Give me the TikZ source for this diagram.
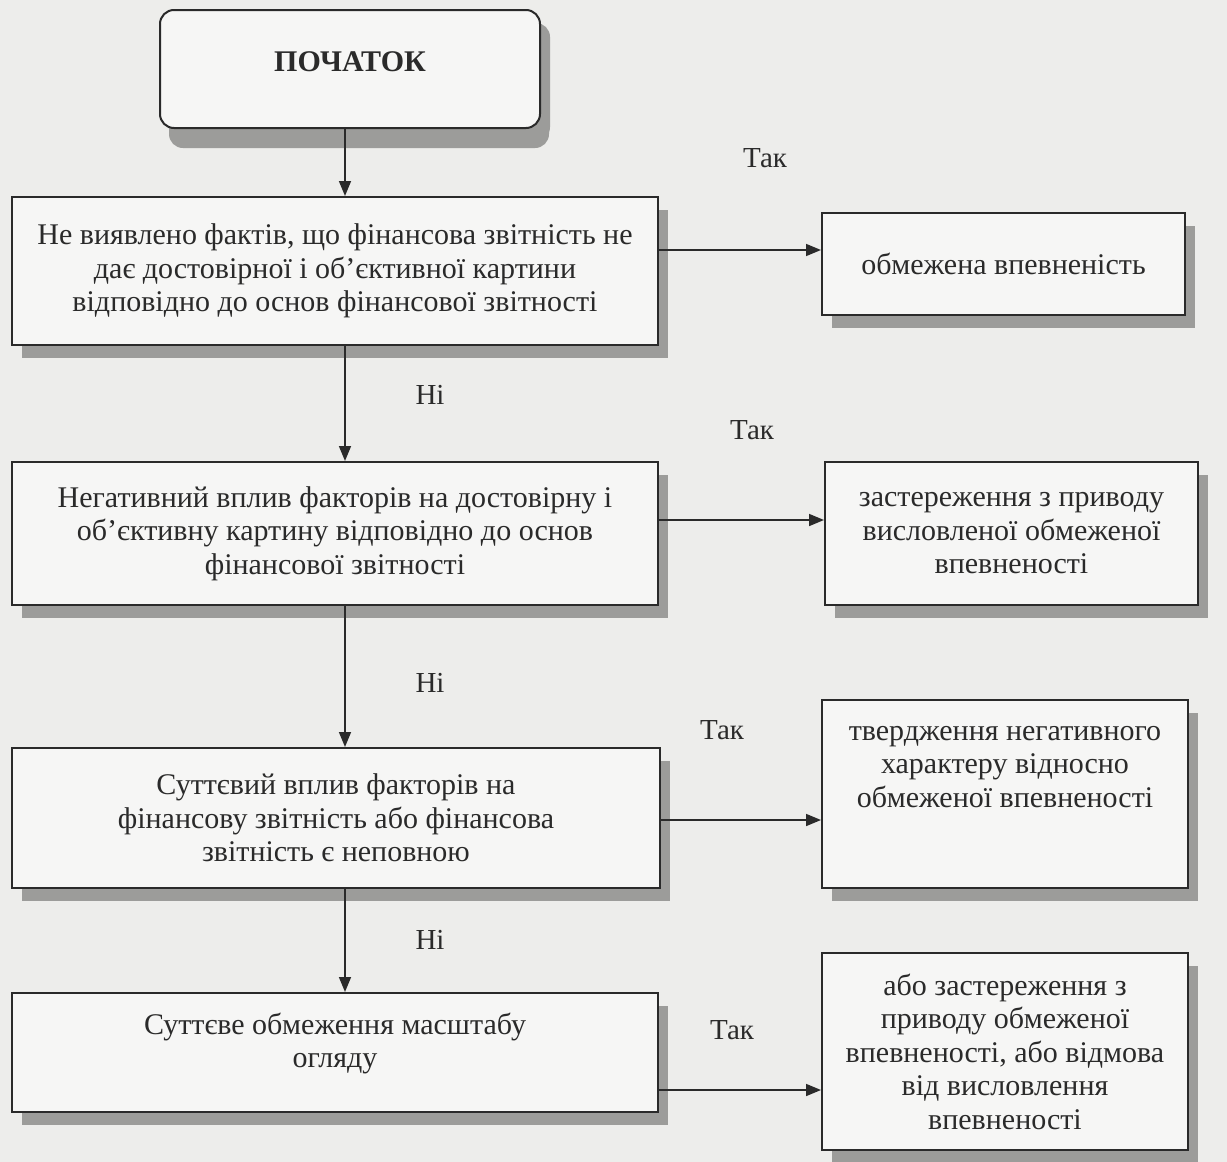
\documentclass[tikz,border=0pt]{standalone}
\usepackage{fontspec}
\setmainfont{Liberation Serif}
\usetikzlibrary{arrows.meta,calc,shadows}
\definecolor{paper}{HTML}{EDEDEB}
\definecolor{ink}{HTML}{2A2A2A}
\definecolor{shade}{HTML}{9C9C9A}
\tikzset{
  box/.style={draw=ink, line width=2pt, fill=paper!50!white, rectangle,
    inner sep=0pt, align=center, text=ink,
    font=\fontsize{30}{33.5}\selectfont,
    drop shadow={shadow xshift=10pt, shadow yshift=-13pt, fill=shade, opacity=1}},
  startbox/.style={box, rounded corners=14pt, font=\fontsize{30}{33}\selectfont\bfseries,
    drop shadow={shadow xshift=9pt, shadow yshift=-20pt, fill=shade, opacity=1}},
  arr/.style={draw=ink, line width=1.6pt, -{Triangle[length=15pt,width=12pt]}},
  tag/.style={text=ink, font=\fontsize{29}{32}\selectfont, inner sep=0pt},
}
\begin{document}
\begin{tikzpicture}[x=1pt, y=-1pt]
  % page
  \fill[paper] (0,0) rectangle (1227,1162);
  \useasboundingbox (0,0) rectangle (1227,1162);

  % left column: start and the four checks
  \node[startbox, minimum width=380pt, minimum height=118pt] (start) at (350,69) {ПОЧАТОК\\[-19pt]\mbox{}};
  \node[box, minimum width=646pt, minimum height=148pt] (q1) at (335,271)
    {Не виявлено фактів, що фінансова звітність не\\
     дає достовірної і об'єктивної картини\\
     відповідно до основ фінансової звітності};
  \node[box, minimum width=646pt, minimum height=143pt] (q2) at (335,533.5)
    {Негативний вплив факторів на достовірну і\\
     об'єктивну картину відповідно до основ\\
     фінансової звітності};
  \node[box, minimum width=648pt, minimum height=140pt] (q3) at (336,818)
    {Суттєвий вплив факторів на\\
     фінансову звітність або фінансова\\
     звітність є неповною};
  \node[box, minimum width=646pt, minimum height=119pt] (q4) at (335,1052.5)
    {Суттєве обмеження масштабу\\
     огляду\\[-9pt]\mbox{}};

  % right column: conclusions
  \node[box, minimum width=363pt, minimum height=102pt] (r1) at (1003.5,264)
    {обмежена впевненість};
  \node[box, minimum width=373pt, minimum height=143pt] (r2) at (1011.5,533.5)
    {застереження з приводу\\
     висловленої обмеженої\\
     впевненості};
  \node[box, minimum width=366pt, minimum height=188pt] (r3) at (1005,794)
    {твердження негативного\\
     характеру відносно\\
     обмеженої впевненості\\[21pt]\mbox{}};
  \node[box, minimum width=366pt, minimum height=197pt] (r4) at (1005,1051.5)
    {або застереження з\\
     приводу обмеженої\\
     впевненості, або відмова\\
     від висловлення\\
     впевненості};

  % connector guides
  \coordinate (spine) at (345,0);
  \coordinate (a1) at (0,250);
  \coordinate (a2) at (0,520);
  \coordinate (a3) at (0,820);
  \coordinate (a4) at (0,1090);

  % "No" path down the left column
  \draw[arr] (start.south -| spine) -- (q1.north -| spine);
  \draw[arr] (q1.south -| spine) -- (q2.north -| spine);
  \draw[arr] (q2.south -| spine) -- (q3.north -| spine);
  \draw[arr] (q3.south -| spine) -- (q4.north -| spine);

  % "Yes" branches to the right
  \draw[arr] (q1.east |- a1) -- (r1.west |- a1);
  \draw[arr] (q2.east |- a2) -- (r2.west |- a2);
  \draw[arr] (q3.east |- a3) -- (r3.west |- a3);
  \draw[arr] (q4.east |- a4) -- (r4.west |- a4);

  % branch labels
  \node[tag] (yes1) at (765,158) {Так};
  \node[tag] (no1) at (430,395) {Ні};
  \node[tag] (yes2) at (752,430) {Так};
  \node[tag] (no2) at (430,683) {Ні};
  \node[tag] (yes3) at (722,730) {Так};
  \node[tag] (no3) at (430,940) {Ні};
  \node[tag] (yes4) at (732,1030) {Так};
\end{tikzpicture}
\end{document}
